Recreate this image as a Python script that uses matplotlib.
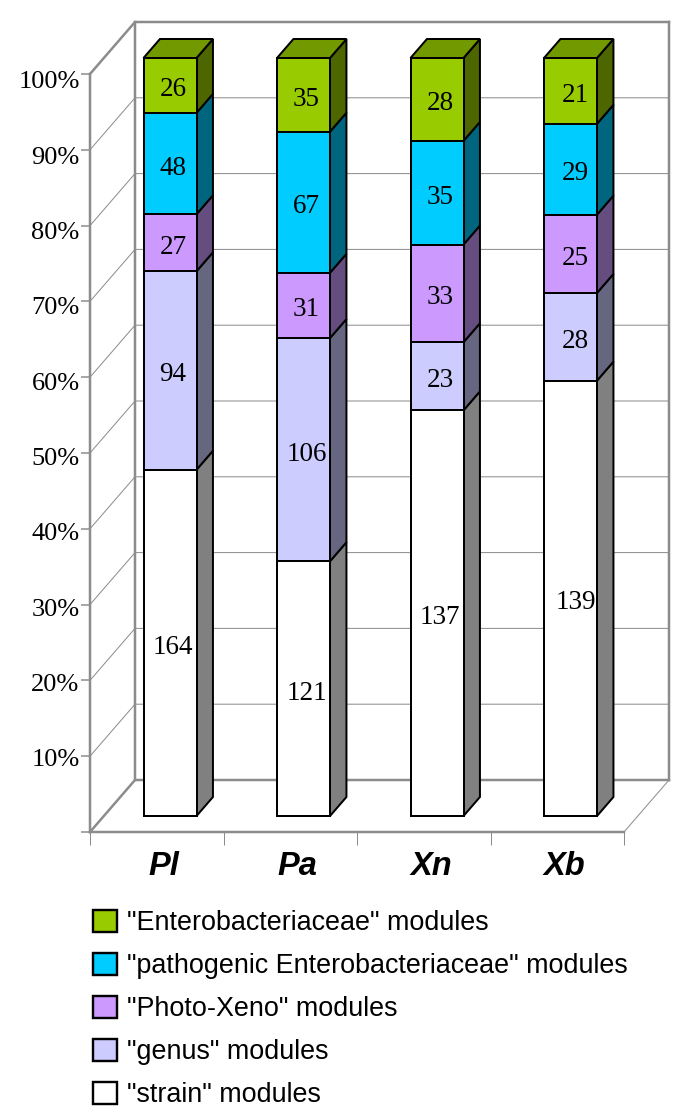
import numpy as np
import matplotlib
matplotlib.use("Agg")
import matplotlib.pyplot as plt
from matplotlib.patches import Polygon, Patch
from matplotlib.transforms import ScaledTranslation

categories = ["Pl", "Pa", "Xn", "Xb"]
strain = [164, 121, 137, 139]
genus = [94, 106, 23, 28]
photo_xeno = [27, 31, 33, 25]
pathogenic = [48, 67, 35, 29]
enterobact = [26, 35, 28, 21]
series_labels = ['"strain" modules', '"genus" modules', '"Photo-Xeno" modules',
                 '"pathogenic Enterobacteriaceae" modules', '"Enterobacteriaceae" modules']
face_colors = ["#FFFFFF", "#CCCCFF", "#CC99FF", "#00CCFF", "#99CC00"]
side_colors = ["#808080", "#666680", "#664D80", "#006680", "#4D6600"]
top_colors = ["#BFBFBF", "#9999BF", "#9973BF", "#0099BF", "#739900"]
y_ticks = list(range(0, 101, 10))
y_labels = [""] + [f"{v}%" for v in y_ticks[1:]]

W, H = 685, 1114
fig = plt.figure(figsize=(W / 100, H / 100), dpi=100)
X0, X1, Y0, Y1 = 90, 624, 832, 74
ax = fig.add_axes([X0 / W, 1 - Y0 / H, (X1 - X0) / W, (Y0 - Y1) / H])
ax.set_xlim(0, 4)
ax.set_ylim(0, 100)
ax.patch.set_visible(False)

ux = (X1 - X0) / 4       # px per category
uy = (Y0 - Y1) / 100     # px per percent
DX = 45 / ux             # full depth in data units
DY = 52 / uy
GRAY = "#8C8C8C"
px = 72 / 100


def P(x, y, d):
    return (x + d * DX, y + d * DY)


# walls
for v in y_ticks:
    thick = v in (0, 100)
    lw = 2.5 * px if thick else 1.0 * px
    ax.plot(*zip(P(0, v, 0), P(0, v, 1), P(4, v, 1)), color=GRAY, lw=lw, clip_on=False, zorder=1,
            solid_joinstyle="miter")
ax.plot(*zip(P(0, 0, 1), P(0, 100, 1)), color=GRAY, lw=2.5 * px, clip_on=False, zorder=1)
ax.plot(*zip(P(4, 0, 1), P(4, 100, 1)), color=GRAY, lw=2.5 * px, clip_on=False, zorder=1)
ax.plot(*zip(P(4, 0, 0), P(4, 0, 1)), color=GRAY, lw=1.0 * px, clip_on=False, zorder=1)

# axes
for s in ("top", "right"):
    ax.spines[s].set_visible(False)
for s in ("left", "bottom"):
    ax.spines[s].set_color(GRAY)
    ax.spines[s].set_linewidth(2.5 * px)
ax.set_yticks(y_ticks)
ax.set_yticklabels(y_labels, family="Liberation Serif", fontsize=19, color="black")
ax.tick_params(axis="y", length=9 * px, width=1.5 * px, color=GRAY, pad=1)
for v, lab in zip(y_ticks, ax.get_yticklabels()):
    lab.set_transform(lab.get_transform() + ScaledTranslation(0, -(1 + v * 0.05) / 100, fig.dpi_scale_trans))
ax.set_xticks(range(5))
ax.set_xticklabels([])
ax.tick_params(axis="x", which="major", length=13 * px, width=1.0 * px, color=GRAY)
ax.set_xticks(np.arange(4) + 0.555, minor=True)
ax.set_xticklabels(categories, minor=True, family="Liberation Sans", style="italic", weight="bold", fontsize=23.5)
ax.tick_params(axis="x", which="minor", length=0, pad=14)

# bars
series = np.array([strain, genus, photo_xeno, pathogenic, enterobact], dtype=float)
pct = series / series.sum(axis=0) * 100
BW = 53 / ux
D0 = 16 / 52
D1 = 35 / 52
LEFT = (13.5 + 40) / ux  # left of the front face, before depth shift
EDGE = 2.0 * px
LABEL_SHIFT = [3, 3, 3, 5]
for c in range(4):
    bottom = 0.0
    x0 = c + LEFT - D0 * DX
    for k in range(5):
        h = pct[k, c]
        xa, ya = P(x0, bottom, D0)
        xb = xa + BW
        dx, dy = (D1 - D0) * DX, (D1 - D0) * DY
        ax.add_patch(Polygon([(xb, ya), (xb + dx, ya + dy), (xb + dx, ya + dy + h), (xb, ya + h)],
                             closed=True, fc=side_colors[k], ec="black", lw=EDGE, clip_on=False, zorder=3 + 0.01 * k,
                             joinstyle="miter"))
        if k == 4:
            ax.add_patch(Polygon([(xa, ya + h), (xb, ya + h), (xb + dx, ya + h + dy), (xa + dx, ya + h + dy)],
                                 closed=True, fc=top_colors[k], ec="black", lw=EDGE, clip_on=False, zorder=3.1,
                                 joinstyle="miter"))
        ax.bar(xa, h, BW, bottom=ya, align="edge", color=face_colors[k], edgecolor="black", linewidth=EDGE,
               clip_on=False, zorder=4)
        ax.text(xa + BW / 2 + LABEL_SHIFT[c] / ux, ya + h / 2 - 4.5 / uy, f"{int(series[k, c])}",
                family="Liberation Serif", fontsize=19.5, ha="center", va="center", zorder=5, color="black")
        bottom += h

# legend
handles = [Patch(fc=face_colors[k], ec="black", lw=EDGE * 1.2, label=series_labels[k]) for k in range(4, -1, -1)]
fig.legend(handles=handles, loc="upper left", bbox_to_anchor=(93 / W, 1 - 910 / H), bbox_transform=fig.transFigure,
           frameon=False, borderpad=0, borderaxespad=0, handlelength=0.89, handleheight=0.89, handletextpad=0.38,
           labelspacing=0.615, prop={"family": "Liberation Sans", "size": 19.4})

fig.savefig("out.png", dpi=100)
